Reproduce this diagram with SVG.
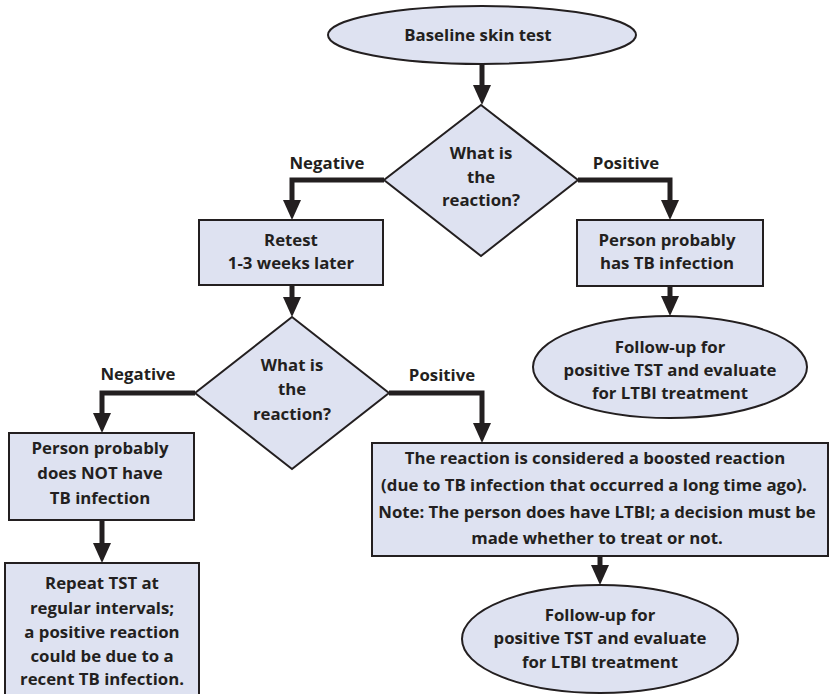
<svg xmlns="http://www.w3.org/2000/svg" width="832" height="694" viewBox="0 0 832 694">
<defs>
<style>
.shape{fill:#dee2f1;stroke:#231f20;stroke-width:2}
.t{font-family:"Open Sans","Noto Sans",sans-serif;font-weight:700;font-size:16.8px;fill:#231f20;text-anchor:middle}
.c{fill:none;stroke:#231f20;stroke-width:5;stroke-linejoin:miter;marker-end:url(#ah)}
</style>
<marker id="ah" markerUnits="userSpaceOnUse" markerWidth="20" markerHeight="18" viewBox="0 0 20 18" refX="0" refY="9" orient="auto">
<path d="M0,0 L20,9 L0,18 z" fill="#231f20"/>
</marker>
</defs>
<rect width="832" height="694" fill="#ffffff"/>
<g id="connectors">
<path class="c" d="M482,64 V85"/>
<path class="c" d="M384,180 H292 V200"/>
<path class="c" d="M578,180 H670 V200"/>
<path class="c" d="M670,286 V296"/>
<path class="c" d="M292,285 V297"/>
<path class="c" d="M195,393 H102 V413"/>
<path class="c" d="M389,393 H482 V423"/>
<path class="c" d="M102,520 V543"/>
<path class="c" d="M600,556 V565"/>
<text class="t" x="327" y="169">Negative</text>
<text class="t" x="626" y="169">Positive</text>
<text class="t" x="138" y="380">Negative</text>
<text class="t" x="442" y="381">Positive</text>
</g>
<g id="start">
<ellipse class="shape" cx="482" cy="35" rx="154" ry="29"/>
<text class="t" x="478" y="41">Baseline skin test</text>
</g>
<g id="decision1">
<polygon class="shape" points="481,105 578,180 481,256 384,180"/>
<text class="t" x="481" y="159">What is</text>
<text class="t" x="481" y="183">the</text>
<text class="t" x="481" y="206">reaction?</text>
</g>
<g id="retest">
<rect class="shape" x="199" y="220" width="184" height="65"/>
<text class="t" x="291" y="246">Retest</text>
<text class="t" x="291" y="269">1-3 weeks later</text>
</g>
<g id="probablyTB">
<rect class="shape" x="577" y="220" width="186" height="66"/>
<text class="t" x="667" y="246">Person probably</text>
<text class="t" x="667" y="269">has TB infection</text>
</g>
<g id="followup1">
<ellipse class="shape" cx="670" cy="367" rx="137" ry="51"/>
<text class="t" x="670" y="353">Follow-up for</text>
<text class="t" x="670" y="376">positive TST and evaluate</text>
<text class="t" x="670" y="399">for LTBI treatment</text>
</g>
<g id="decision2">
<polygon class="shape" points="292,317 389,393 292,469 195,393"/>
<text class="t" x="292" y="371">What is</text>
<text class="t" x="292" y="395">the</text>
<text class="t" x="292" y="420">reaction?</text>
</g>
<g id="notTB">
<rect class="shape" x="9" y="433" width="185" height="87"/>
<text class="t" x="100" y="454">Person probably</text>
<text class="t" x="100" y="479">does NOT have</text>
<text class="t" x="100" y="504">TB infection</text>
</g>
<g id="repeat">
<rect class="shape" x="5" y="563" width="194" height="134"/>
<text class="t" x="102" y="589">Repeat TST at</text>
<text class="t" x="102" y="614">regular intervals;</text>
<text class="t" x="102" y="638">a positive reaction</text>
<text class="t" x="102" y="662">could be due to a</text>
<text class="t" x="102" y="685">recent TB infection.</text>
</g>
<g id="boosted">
<rect class="shape" x="372" y="443" width="456" height="113"/>
<text class="t" x="595" y="464">The reaction is considered a boosted reaction</text>
<text class="t" x="594" y="491">(due to TB infection that occurred a long time ago).</text>
<text class="t" x="597" y="518">Note: The person does have LTBI; a decision must be</text>
<text class="t" x="597" y="544">made whether to treat or not.</text>
</g>
<g id="followup2">
<ellipse class="shape" cx="600" cy="639" rx="138" ry="54"/>
<text class="t" x="600" y="621">Follow-up for</text>
<text class="t" x="600" y="644">positive TST and evaluate</text>
<text class="t" x="600" y="668">for LTBI treatment</text>
</g>
</svg>
